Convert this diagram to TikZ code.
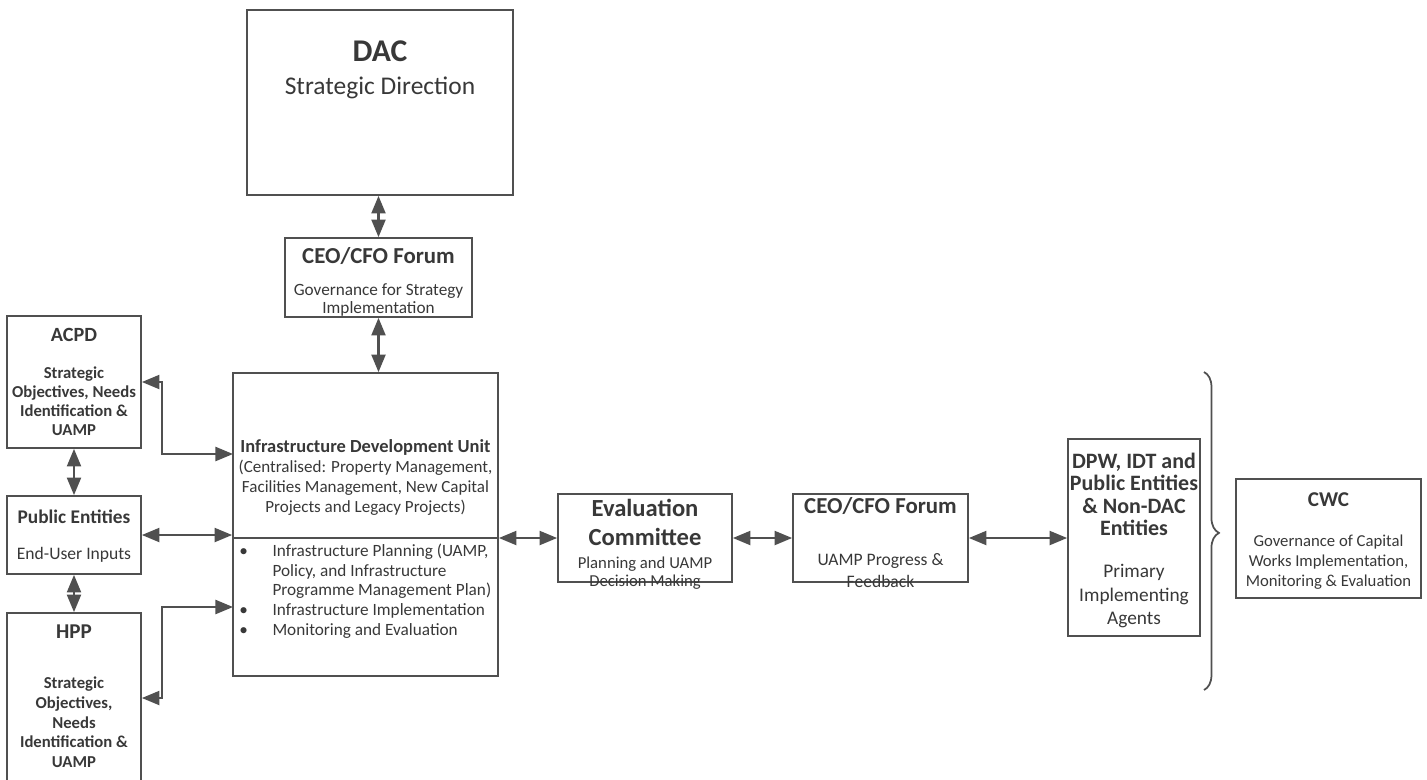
\documentclass[tikz,border=0pt]{standalone}
\usepackage{fontspec}
\setmainfont{Carlito}
\usetikzlibrary{arrows.meta, fit, decorations.pathreplacing}
\definecolor{inkgray}{HTML}{383838}
\definecolor{linegray}{HTML}{505050}
\newcommand{\fsz}[2]{\fontsize{#1}{#2}\selectfont}
\tikzset{
  box/.style={draw=linegray, line width=1pt, inner sep=0pt},
  rule/.style={draw=linegray, line width=1pt},
  biarrow/.style={{Triangle[length=10pt,width=8pt]}-{Triangle[length=10pt,width=8pt]}, draw=linegray, line width=1.2pt},
  txt/.style={text=inkgray, align=center, inner sep=0pt},
}

\begin{document}
\begin{tikzpicture}[x=0.02cm, y=-0.02cm]
\useasboundingbox (0,0) rectangle (1427,779);
% boxes
\node[box, fit={(247,10) (513,195)}] (dac) {};
\node[box, fit={(285,238) (472,317)}] (ceo1) {};
\node[box, fit={(233,373) (498,676)}] (idu) {};
\node[box, fit={(7,316) (141,448)}] (acpd) {};
\node[box, fit={(7,496) (141,574)}] (pe) {};
\node[box, fit={(7,613) (141,790)}] (hpp) {};
\node[box, fit={(558,494) (732,582)}] (ec) {};
\node[box, fit={(793,494) (968,582)}] (ceo2) {};
\node[box, fit={(1068,439) (1200,636)}] (dpw) {};
\node[box, fit={(1236,479) (1421,598)}] (cwc) {};

% texts
\node[txt, font={\bfseries\fsz{18}{20}}] (dac-t) at (380,51) {DAC};
\node[txt, font={\fsz{14.5}{17}}] (dac-s) at (380,88) {Strategic Direction};

\node[txt, font={\bfseries\fsz{13}{15}}] (ceo1-t) at (378.5,256) {CEO/CFO Forum};
\node[txt, font={\fsz{9.8}{10.2}}] (ceo1-s) at (378.5,300) {Governance for Strategy\\Implementation};

\node[txt, font={\bfseries\fsz{11.5}{13}}] (acpd-t) at (74,335) {ACPD};
\node[txt, font={\bfseries\fsz{9.5}{10.8}}] (acpd-s) at (74,401.5) {Strategic\\Objectives, Needs\\Identification \&\\UAMP};

\node[txt, font={\bfseries\fsz{11}{13}}] (pe-t) at (74,517) {Public Entities};
\node[txt, font={\fsz{10}{12}}] (pe-s) at (74,555) {End-User Inputs};

\node[txt, font={\bfseries\fsz{12}{14}}] (hpp-t) at (74,632) {HPP};
\node[txt, font={\bfseries\fsz{9.5}{11.2}}] (hpp-s) at (74,722.5) {Strategic\\Objectives,\\Needs\\Identification \&\\UAMP};

\node[txt, font={\fsz{9.7}{11.3}}] (idu-t) at (365.5,477.5) {{\fsz{10.5}{11.3}\bfseries Infrastructure Development Unit}\\(Centralised: Property Management,\\Facilities Management, New Capital\\Projects and Legacy Projects)};
\node[txt, anchor=west, align=left, font={\fsz{9.8}{11.3}}] (idu-list) at (239,592) {%
\begin{tabular}{@{}l@{\hspace{14pt}}l@{}}
\textbullet & Infrastructure Planning (UAMP,\\
 & Policy, and Infrastructure\\
 & Programme Management Plan)\\
\textbullet & Infrastructure Implementation\\
\textbullet & Monitoring and Evaluation
\end{tabular}};

\node[txt, font={\bfseries\fsz{14}{16.4}}] (ec-t) at (645,522.5) {Evaluation\\Committee};
\node[txt, font={\fsz{9.5}{10.2}}] (ec-s) at (645,573) {Planning and UAMP\\Decision Making};

\node[txt, font={\bfseries\fsz{13}{15}}] (ceo2-t) at (880.5,506) {CEO/CFO Forum};
\node[txt, font={\fsz{10}{13}}] (ceo2-s) at (880.5,570.5) {UAMP Progress \&\\Feedback};

\node[txt, font={\bfseries\fsz{12.5}{12.7}}] (dpw-t) at (1134,494.5) {DPW, IDT and\\Public Entities\\\& Non-DAC\\Entities};
\node[txt, font={\fsz{11}{13.6}}] (dpw-s) at (1134,596) {Primary\\Implementing\\Agents};

\node[txt, font={\bfseries\fsz{12}{14}}] (cwc-t) at (1328.5,500) {CWC};
\node[txt, font={\fsz{9.5}{11.3}}] (cwc-s) at (1328.5,562) {Governance of Capital\\Works Implementation,\\Monitoring \& Evaluation};

% connectors
\coordinate (idu-in1) at (233,454);
\coordinate (idu-in2) at (233,607);
\coordinate (idu-split) at (233,538);
\draw[rule] (idu-split) -- (idu-split -| idu.east);
\draw[biarrow] (dac.south -| ceo1.north) -- (ceo1.north);
\draw[biarrow] (ceo1.south) -- (ceo1.south |- idu.north);
\draw[biarrow] (acpd.south) -- (pe.north);
\draw[biarrow] (pe.south) -- (pe.south |- hpp.north);
\draw[biarrow] (acpd.east) -- ++(20,0) |- (idu-in1);
\draw[biarrow] (pe.east) -- (pe.east -| idu.west);
\draw[biarrow] (hpp.east |- 0,698) -- ++(20,0) |- (idu-in2);
\draw[biarrow] (ec.west -| idu.east) -- (ec.west);
\draw[biarrow] (ec.east) -- (ceo2.west);
\draw[biarrow] (ceo2.east) -- (ceo2.east -| dpw.west);

% brace
\draw[rule, decorate, decoration={brace, amplitude=8.5pt, aspect=0.506}] (1204,372) -- (1204,690);
\end{tikzpicture}
\end{document}
